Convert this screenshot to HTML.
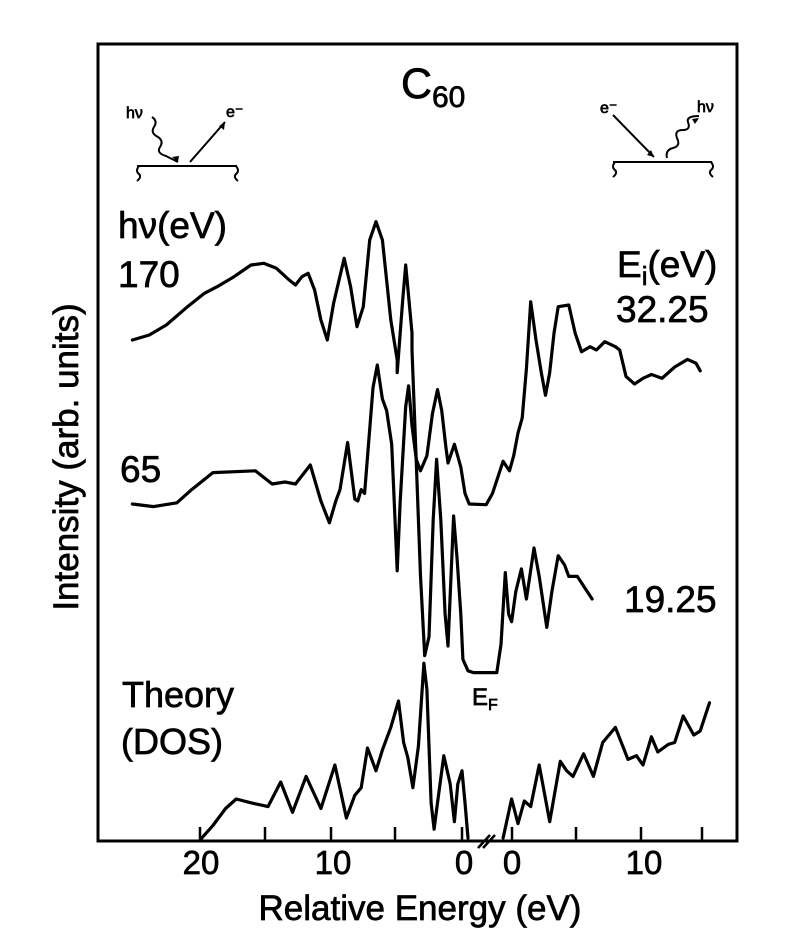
<!DOCTYPE html>
<html><head><meta charset="utf-8"><style>
html,body{margin:0;padding:0;background:#fff;}
svg{display:block;}
text{font-family:"Liberation Sans",sans-serif;fill:#000;stroke:#000;stroke-width:0.7;}
</style></head><body>
<svg width="786" height="949" viewBox="0 0 786 949" xmlns="http://www.w3.org/2000/svg">
<rect x="98" y="44" width="639" height="797" fill="none" stroke="#000" stroke-width="3"/>
<g stroke="#000" stroke-width="2.5">
<line x1="200" y1="841" x2="200" y2="827"/>
<line x1="265" y1="841" x2="265" y2="827"/>
<line x1="331" y1="841" x2="331" y2="827"/>
<line x1="395" y1="841" x2="395" y2="827"/>
<line x1="462" y1="841" x2="462" y2="827"/>
<line x1="512" y1="841" x2="512" y2="827"/>
<line x1="576" y1="841" x2="576" y2="827"/>
<line x1="641" y1="841" x2="641" y2="827"/>
<line x1="702" y1="841" x2="702" y2="827"/>
<line x1="478" y1="848" x2="490" y2="835"/>
<line x1="483" y1="848" x2="495" y2="835"/>
</g>
<g fill="none" stroke="#000" stroke-width="3.2" stroke-linejoin="round" stroke-linecap="round">
<path d="M132.4,340 L149.3,335 166.3,325 187.5,306.7 204.4,293.3 217.1,286.7 234,276.7 251,265 263.7,263.3 276.4,268.3 289.2,280 295.5,285 301.9,276.7 308.2,273.3 314.6,290 320.9,320 327.3,340 333.6,303.3 344.2,258.3 350.6,286.7 357,326.7 363.3,306.7 369.7,240 376,221.7 382.4,240 390.8,320 397.2,360 397.2,372.6 402.7,300 405.7,265 412,333 412,350 416.3,463 420.5,576 424.7,655.7 429,636.8 433.2,519.8 436.6,459.4 440.8,519.8 445.1,614 448,646 451,576.4 453.6,516 457,557.5 460.8,614 462.9,659.4 468,670.8 473.5,672.6 496.8,672.6 501,644.3 505.3,572.6 508.6,614 511.6,621.7 515.8,591.5 521.4,568.9 526.4,599 534,548 539.2,576.4 546.8,627.4 551.9,591.5 558.2,555.7 564.6,565 568.8,576.4 577.3,576.4 592.1,599"/>
<path d="M132.4,504 L153.6,506.6 176.9,502.8 191.7,489.6 212.9,472.6 255.3,470.8 272.2,484 284.9,482 295.5,484 310.3,465 320.9,501 329.4,522.8 335.8,501 340,489.6 347.6,442.5 354.8,499 357.8,501 361.2,489.6 364.6,493.4 373,387.7 377.3,365 382.4,399 386.6,410.4 391.7,444.3 394.2,501 397.2,570.8 400.2,501 405.7,406.6 408.6,385.8 412,425.5 416.3,459.4 420.5,470.8 426.9,455.7 432.4,414 437.5,389.6 441.7,410.4 446,448 448,463 454.4,444.3 460.8,467 465,493.4 469.2,504 486.2,504.7 492.5,493.4 503.1,461.3 509.5,470.8 513.7,455.7 518,433 522.2,418 526.4,368.9 530.7,301.7 536,340 541.3,372.6 545.5,395.3 549.7,372.6 554,333.3 558.2,306.7 568.8,305 575.2,333.3 581.5,351.7 590,346.7 596.4,350 604.8,341.7 615.4,346.7 619.7,350 626,376.4 634.5,384 643,378.3 651.4,374.5 662,378.3 674.7,367 687.5,359.4 696,363.2 700.2,370.8"/>
<path d="M200.2,839.8 L212.9,825.5 225.6,808.5 236.2,799 251,802.8 268,806.6 280.7,782 292.5,812.3 306.1,776.4 320.9,808.5 334.9,765 346.4,818 354.8,795.3 361.2,787.7 367.5,748 376,770.8 382.4,750 390.8,727.4 398.5,701 403.6,742.5 407.8,757.5 412.9,787.7 418.4,746.2 423.9,663.2 426.9,689.6 431.1,802.8 434.1,829.2 437.5,802.8 443.8,755.7 450.2,784 454.4,821.7 457.8,784 462,770.8 465,802.8 468,838"/>
<path d="M503.1,838 L511.6,799 518,823.6 524.3,801 530.7,806.6 539.2,765 549.7,821.7 560.3,761.3 566.7,770.8 573,776.4 583.6,753.8 593.4,776.4 602.7,742.5 615.4,727.4 628,759.4 636.4,755.7 643,765 651.4,736.8 657.8,752 668.4,744.3 674.7,742.5 683.2,716 693.8,735 700.2,731 709.5,702.8"/>
</g>
<g fill="none" stroke="#000" stroke-width="2">
<path d="M137,166 L237,166"/>
<path d="M139,166 q-4,5 0,8 q3,3 -2,7"/>
<path d="M236,166 q4,5 0,8 q-3,3 2,7"/>
<path d="M152,117 q6,4 2,10 q-4,6 4,10 q6,4 2,10 q-4,6 6,9 l12,6"/>
<path d="M190,162 L225,122"/>
<path d="M613,162 L712,162"/>
<path d="M615,162 q-4,5 0,8 q3,3 -2,7"/>
<path d="M711,162 q4,5 0,8 q-3,3 2,7"/>
<path d="M613,115 L654,157"/>
<path d="M667,158 q-2,-8 6,-10 q8,-2 4,-10 q-3,-8 6,-8 q8,0 5,-8 q-2,-6 11,-6"/>
</g>
<path d="M178,162 l-6,-5 l7,-1 z" fill="#000"/>
<path d="M225,122 l-1,8 l-5,-4 z" fill="#000"/>
<path d="M654,157 l-7,-2 l4,-5 z" fill="#000"/>
<path d="M699,118 l-7,1 l3,5 z" fill="#000"/>
<text x="126" y="118" font-size="16">hν</text>
<text x="226" y="117" font-size="16">e⁻</text>
<text x="600" y="113" font-size="16">e⁻</text>
<text x="697" y="112" font-size="16">hν</text>
<text x="401" y="98" font-size="43">C</text>
<text x="432" y="107" font-size="30">60</text>
<text x="118" y="238" font-size="37">hν(eV)</text>
<text x="118" y="287" font-size="37">170</text>
<text x="617" y="277" font-size="37">E<tspan font-size="26" dy="8">i</tspan><tspan dy="-8">(eV)</tspan></text>
<text x="616" y="322" font-size="37">32.25</text>
<text x="120" y="482" font-size="37">65</text>
<text x="624" y="612" font-size="37">19.25</text>
<text x="122" y="707" font-size="36">Theory</text>
<text x="121" y="754" font-size="36">(DOS)</text>
<text x="472" y="705" font-size="24">E<tspan font-size="16" dy="5">F</tspan></text>
<g font-size="33" text-anchor="middle">
<text x="201" y="874">20</text>
<text x="333" y="874">10</text>
<text x="464" y="874">0</text>
<text x="512" y="874">0</text>
<text x="644" y="874">10</text>
</g>
<text x="420" y="920" font-size="35" text-anchor="middle">Relative Energy (eV)</text>
<text transform="translate(78,457) rotate(-90)" font-size="35" text-anchor="middle">Intensity (arb. units)</text>
</svg>
</body></html>
